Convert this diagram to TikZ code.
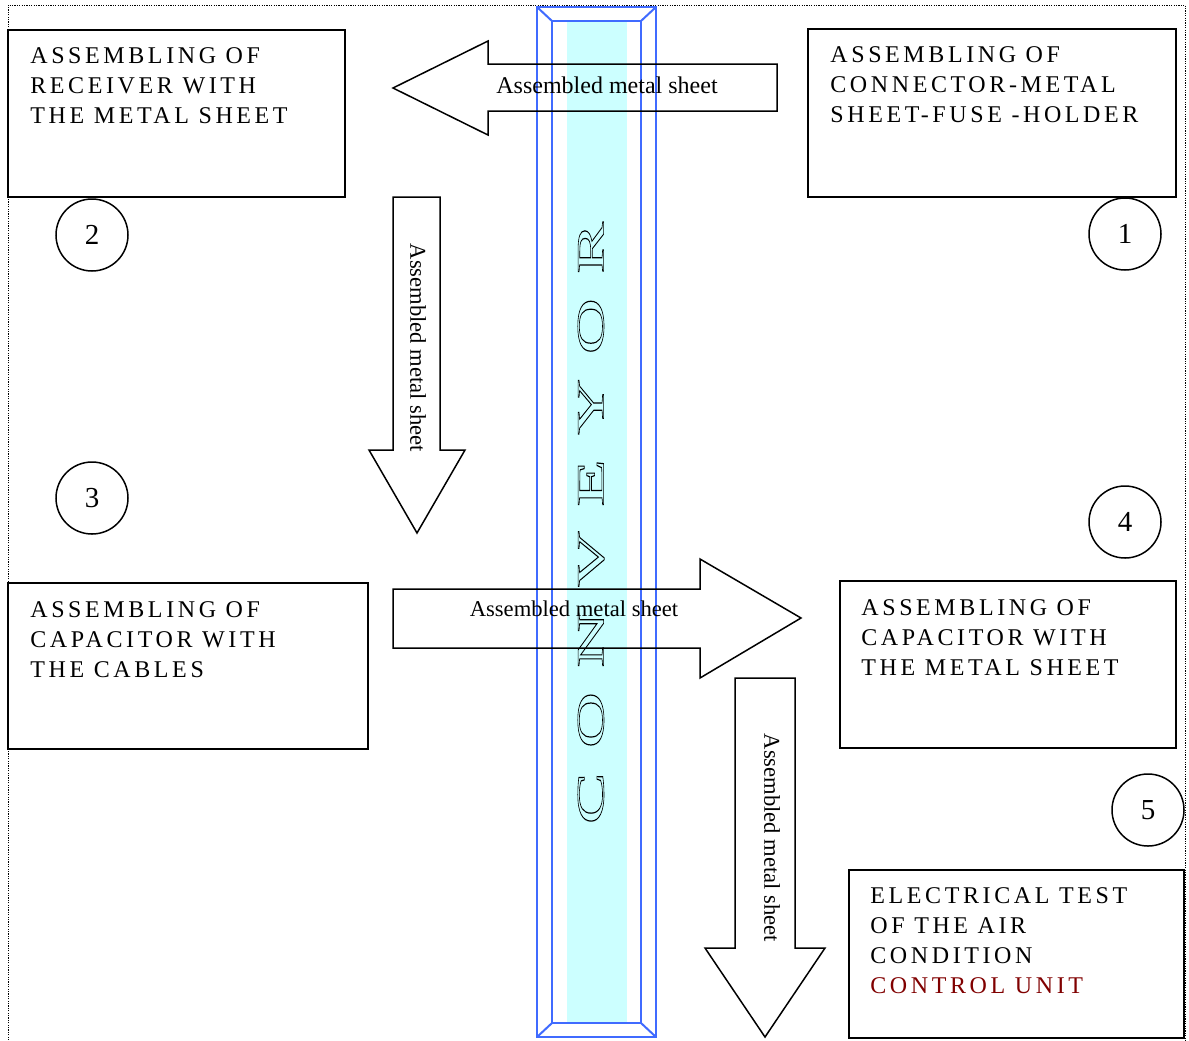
\documentclass[tikz,border=0pt]{standalone}
\usepackage{fontspec}
\setmainfont{Liberation Serif}
\newfontfamily\stagefont[LetterSpace=15]{Liberation Serif}
\newfontfamily\beltfont[LetterSpace=31]{Liberation Serif}
\usetikzlibrary{positioning}

\definecolor{beltblue}{RGB}{64,107,255}
\definecolor{beltcyan}{RGB}{204,255,255}
\definecolor{unitred}{RGB}{128,0,0}

% hollow letters for the conveyor
\newcommand{\hollow}[1]{\special{pdf:literal direct 1 Tr 0.3 w}#1\special{pdf:literal direct 0 Tr}}

\begin{document}
\begin{tikzpicture}[x=0.5pt,y=-0.5pt,>=stealth,
    stage/.style={draw,line width=1pt,inner sep=0pt,outer sep=0pt,anchor=north west},
    stagetext/.style={anchor=north west,align=left,inner sep=0pt,font=\stagefont\fontsize{12}{15}\selectfont},
    num node/.style={circle,draw,line width=0.75pt,minimum size=36pt,inner sep=0pt,font=\fontsize{14.5}{17}\selectfont},
    blockarrow/.style={draw,line width=0.75pt,line join=miter},
    flowlabel/.style={inner sep=0pt,font=\fontsize{11.3}{14}\selectfont},
    belt/.style={draw=beltblue,line width=1pt}]
    \useasboundingbox (0,0) rectangle (1189,1040);

    % frame
    \draw[line width=0.5pt,dash pattern=on 0.6pt off 0.6pt] (8,1045) -- (8,5) -- (1185,5) -- (1185,1045);

    % conveyor
    \fill[beltcyan] (567,21) rectangle (627,1023);
    \node[rotate=90,xscale=2,inner sep=0pt,font=\beltfont\fontsize{19.5}{19}\selectfont] (conveyor) at (591,523) {\hollow{CONVEYOR}};
    \draw[belt] (537,7) rectangle (656,1037);
    \draw[belt] (552,21) rectangle (641,1023);
    \draw[belt] (537,7) -- (552,21) (656,7) -- (641,21) (537,1037) -- (552,1023) (656,1037) -- (641,1023);

    % stations
    \node[stage,minimum width=168.5pt,minimum height=83.5pt] (receiver) at (8,30) {};
    \node[stagetext] (receivertext) at ([shift={(22,17)}]receiver.north west) {ASSEMBLING OF\\RECEIVER WITH\\THE METAL SHEET};
    \node[stage,minimum width=184pt,minimum height=84pt] (connector) at (808,29) {};
    \node[stagetext] (connectortext) at ([shift={(22,17)}]connector.north west) {ASSEMBLING OF\\CONNECTOR-METAL\\SHEET-FUSE -HOLDER};
    \node[stage,minimum width=180pt,minimum height=83pt] (cables) at (8,583) {};
    \node[stagetext] (cablestext) at ([shift={(22,18)}]cables.north west) {ASSEMBLING OF\\CAPACITOR WITH\\THE CABLES};
    \node[stage,minimum width=168pt,minimum height=83.5pt] (capsheet) at (840,581) {};
    \node[stagetext] (capsheettext) at ([shift={(21,18)}]capsheet.north west) {ASSEMBLING OF\\CAPACITOR WITH\\THE METAL SHEET};
    \node[stage,minimum width=167.5pt,minimum height=84pt] (test) at (849,870) {};
    \node[stagetext] (testtext) at ([shift={(21,17)}]test.north west) {ELECTRICAL TEST\\OF THE AIR\\CONDITION\\\textcolor{unitred}{CONTROL UNIT}};

    \node[num node] (n1) at (1125,234) {1};
    \node[num node] (n2) at (92,235) {2};
    \node[num node] (n3) at (92,498) {3};
    \node[num node] (n4) at (1125,522) {4};
    \node[num node] (n5) at (1148,810) {5};

    % transfer arrows
    \draw[blockarrow] (777,64) -- (488,64) -- (488,41) -- (393,88) -- (488,135) -- (488,111) -- (777,111) -- cycle;
    \node[flowlabel,font=\fontsize{12}{14}\selectfont] (move1) at (607,85) {Assembled metal sheet};
    \draw[blockarrow] (393,197) -- (440,197) -- (440,450) -- (465,450) -- (417,533) -- (369,450) -- (393,450) -- cycle;
    \node[flowlabel,rotate=-90] (move2) at (418,348) {Assembled metal sheet};
    \draw[blockarrow] (393,589) -- (700,589) -- (700,559) -- (801,618) -- (700,678) -- (700,648) -- (393,648) -- cycle;
    \node[flowlabel] (move3) at (574,609) {Assembled metal sheet};
    \draw[blockarrow] (735,678) -- (795,678) -- (795,948) -- (825,948) -- (765,1037) -- (705,948) -- (735,948) -- cycle;
    \node[flowlabel,rotate=-90] (move4) at (772,838) {Assembled metal sheet};
\end{tikzpicture}
\end{document}
